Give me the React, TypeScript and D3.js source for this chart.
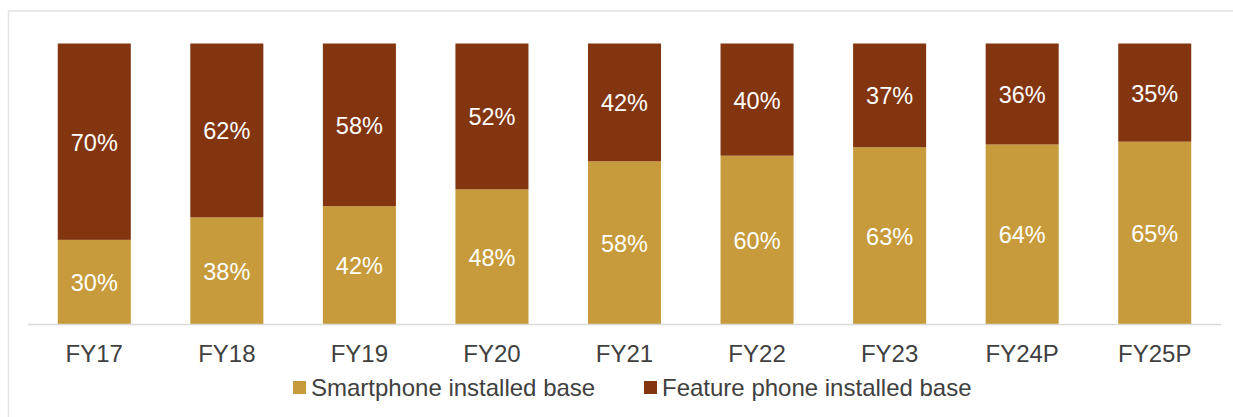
import React from 'react'
import * as d3 from 'd3'

const width = 1233
const height = 417

const years = ['FY17', 'FY18', 'FY19', 'FY20', 'FY21', 'FY22', 'FY23', 'FY24P', 'FY25P']
const smartphone = [30, 38, 42, 48, 58, 60, 63, 64, 65]
const featurePhone = [70, 62, 58, 52, 42, 40, 37, 36, 35]
const seriesNames = ['Smartphone installed base', 'Feature phone installed base']
const colors = ['#C79B3B', '#833510']

const plotTop = 43.5
const plotBottom = 324

const App = () => {
  const x = d3.scaleBand().domain(years).range([28, 1221]).paddingInner(0.449).paddingOuter(0.2245)
  const y = d3.scaleLinear().domain([0, 100]).range([plotBottom, plotTop])

  const rows = years.map((yr, i) => ({year: yr, smart: smartphone[i], feature: featurePhone[i]}))
  const stack = d3.stack<any>().keys(['smart', 'feature'])(rows)

  const font = 'Arial, "Liberation Sans", sans-serif'

  return (
    <svg
      width={width}
      height={height}
      style={{position: 'absolute', left: 0, top: 0}}
      fontFamily={font}
    >
      <rect x={0} y={0} width={width} height={height} fill="#fff" />
      <rect x={8.5} y={11} width={1400} height={600} fill="none" stroke="#e3e3e3" strokeWidth={1.5} />

      {stack.map((layer, li) => (
        <g key={li}>
          {layer.map((d, i) => (
            <g key={i}>
              <rect
                x={x(years[i])}
                y={y(d[1])}
                width={x.bandwidth()}
                height={y(d[0]) - y(d[1])}
                fill={colors[li]}
              />
              <text
                x={(x(years[i]) as number) + x.bandwidth() / 2}
                y={(y(d[0]) + y(d[1])) / 2 + 9}
                textAnchor="middle"
                fontSize={23.5}
                fill="#fff"
              >
                {d[1] - d[0]}%
              </text>
            </g>
          ))}
        </g>
      ))}

      <line x1={28} x2={1221} y1={plotBottom + 0.5} y2={plotBottom + 0.5} stroke="#d9d9d9" strokeWidth={1.5} />

      {years.map(yr => (
        <text
          key={yr}
          x={(x(yr) as number) + x.bandwidth() / 2}
          y={361.5}
          textAnchor="middle"
          fontSize={24}
          fill="#404040"
        >
          {yr}
        </text>
      ))}

      {seriesNames.map((name, i) => {
        const lx = i === 0 ? 293 : 644
        return (
          <g key={name}>
            <rect x={lx} y={381} width={13} height={13} fill={colors[i]} />
            <text x={lx + 18} y={396} fontSize={24} fill="#404040">
              {name}
            </text>
          </g>
        )
      })}
    </svg>
  )
}

export default App
